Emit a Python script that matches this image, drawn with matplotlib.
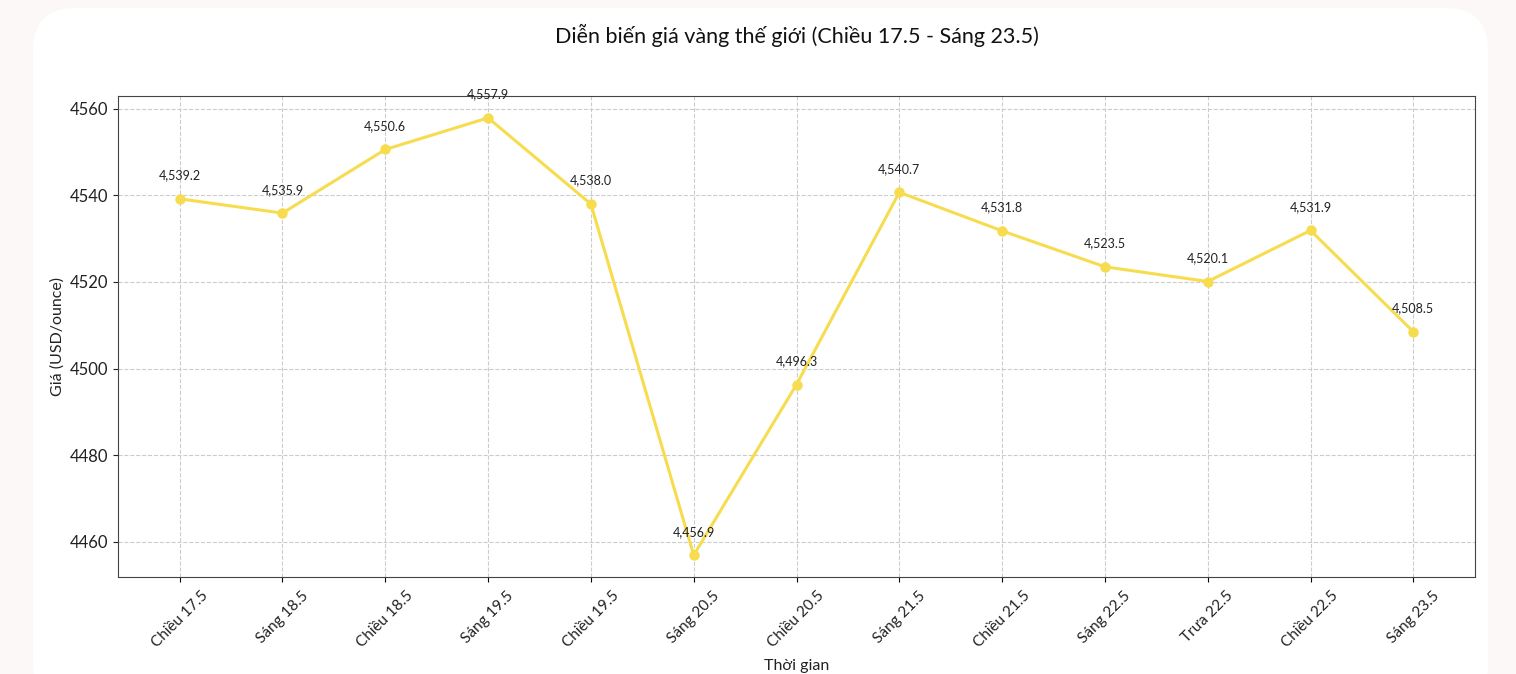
import matplotlib
matplotlib.use("Agg")
import matplotlib.pyplot as plt
from matplotlib.patches import FancyBboxPatch

plt.rcParams["font.family"] = ["Lato", "Noto Sans", "DejaVu Sans"]

labels = ["Chiều 17.5", "Sáng 18.5", "Chiều 18.5", "Sáng 19.5", "Chiều 19.5",
          "Sáng 20.5", "Chiều 20.5", "Sáng 21.5", "Chiều 21.5", "Sáng 22.5",
          "Trưa 22.5", "Chiều 22.5", "Sáng 23.5"]
prices = [4539.2, 4535.9, 4550.6, 4557.9, 4538.0, 4456.9, 4496.3,
          4540.7, 4531.8, 4523.5, 4520.1, 4531.9, 4508.5]

fig = plt.figure(figsize=(15.16, 6.74), dpi=100)
fig.patch.set_facecolor("#fcf8f8")

# white rounded card behind the chart
card = FancyBboxPatch((33 / 1516, -0.05), (1488 - 33) / 1516, 1.05 - 8 / 674,
                      boxstyle="round,pad=0,rounding_size=0.028",
                      transform=fig.transFigure, facecolor="white",
                      edgecolor="none", zorder=-5, mutation_aspect=1516 / 674)
fig.patches.append(card)

ax = fig.add_axes([118 / 1516, 1 - 577 / 674, (1475 - 118) / 1516, (577 - 96) / 674])
ax.set_zorder(2)
ax.set_facecolor("white")

x = list(range(len(labels)))
ax.plot(x, prices, color="#f7dc4f", linewidth=2.2, marker="o", markersize=6.5, zorder=3)

for xi, p in zip(x, prices):
    ax.annotate(f"{p:,.1f}", (xi, p), xytext=(0, 14), textcoords="offset points",
                ha="center", va="baseline", fontsize=9, color="#222222")

ax.set_xticks(x)
ax.set_xticklabels(labels, rotation=45, fontsize=11, color="#222222")
ax.tick_params(axis="y", labelsize=12, colors="#222222")
ax.tick_params(axis="x", pad=5)
ax.grid(True, linestyle="--", color="#cccccc", linewidth=0.8)
ax.set_axisbelow(True)
for s in ax.spines.values():
    s.set_color("#444444")

ax.set_xlabel("Thời gian", fontsize=11.5, color="#222222", labelpad=6)
ax.set_ylabel("Giá (USD/ounce)", fontsize=11.5, color="#222222")
ax.set_title("Diễn biến giá vàng thế giới (Chiều 17.5 - Sáng 23.5)",
             fontsize=15.5, color="#111111", pad=38)

fig.savefig("out.png", dpi=100, facecolor=fig.get_facecolor())
